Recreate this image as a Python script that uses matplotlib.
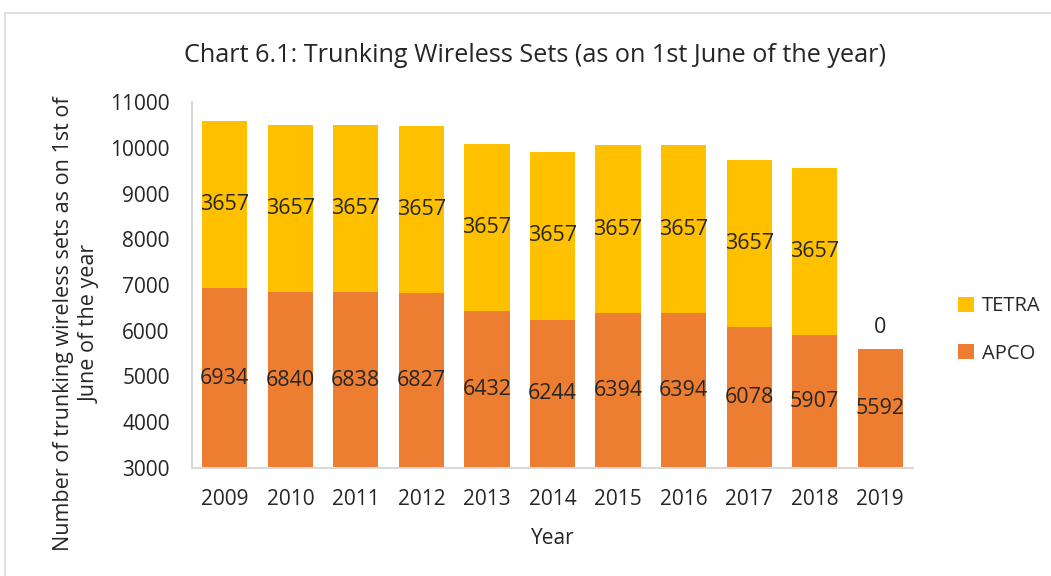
import matplotlib.pyplot as plt
from matplotlib.patches import Rectangle

years = ['2009', '2010', '2011', '2012', '2013', '2014', '2015', '2016', '2017', '2018', '2019']
apco = [6934, 6840, 6838, 6827, 6432, 6244, 6394, 6394, 6078, 5907, 5592]
tetra = [3657, 3657, 3657, 3657, 3657, 3657, 3657, 3657, 3657, 3657, 0]

plt.rcParams['font.family'] = ['Open Sans', 'DejaVu Sans']
txt = '#262626'

fig = plt.figure(figsize=(10.51, 5.76), dpi=100)
ax = fig.add_axes([192 / 1051, 1 - 468 / 576, 721 / 1051, 366 / 576])

# chart frame
fig.patches.append(Rectangle((5 / 1051, -0.05), 1.1, 1 - 13 / 576 + 0.05,
                             transform=fig.transFigure, fill=False,
                             edgecolor='#d9d9d9', linewidth=1.2))

x = list(range(len(years)))
b1 = ax.bar(x, apco, width=0.69, color='#ED7D31', label='APCO')
b2 = ax.bar(x, tetra, width=0.69, bottom=apco, color='#FFC000', label='TETRA')

ymin, ymax = 3000, 11000
ax.set_ylim(ymin, ymax)
ax.set_xlim(-0.5, len(years) - 0.5)

for i in x:
    ax.text(i, (ymin + apco[i]) / 2, str(apco[i]), ha='center', va='center',
            fontsize=15.5, color=txt)
    if tetra[i] > 0:
        ax.text(i, apco[i] + tetra[i] / 2, str(tetra[i]), ha='center', va='center',
                fontsize=15.5, color=txt)
    else:
        ax.annotate(str(tetra[i]), (i, apco[i]), xytext=(0, 16), textcoords='offset points',
                    ha='center', va='center', fontsize=15.5, color=txt)

ax.set_xticks(x)
ax.set_xticklabels(years)
ax.set_yticks(range(3000, 11001, 1000))
ax.tick_params(axis='both', length=0, labelsize=15, colors=txt)
ax.tick_params(axis='y', pad=16)
ax.tick_params(axis='x', pad=15)
for s in ['top', 'right']:
    ax.spines[s].set_visible(False)
for s in ['left', 'bottom']:
    ax.spines[s].set_color('#d9d9d9')
    ax.spines[s].set_linewidth(1.5)

ax.set_xlabel('Year', fontsize=15, color=txt, labelpad=13)
fig.text(77 / 1051, 1 - 324 / 576,
         'Number of trunking wireless sets as on 1st of\nJune of the year',
         rotation=90, ha='center', va='center', multialignment='center',
         fontsize=15.5, color=txt, linespacing=1.4)

fig.text(535 / 1051, 1 - 55 / 576, 'Chart 6.1: Trunking Wireless Sets (as on 1st June of the year)',
         ha='center', va='center', fontsize=18.2, color=txt)

ax.legend(handles=[b2, b1], loc='center left', bbox_to_anchor=(940 / 1051, 1 - 330 / 576),
          bbox_transform=fig.transFigure, frameon=False, fontsize=14.5,
          handlelength=0.8, handleheight=0.8, handletextpad=0.4, labelspacing=1.35,
          labelcolor=txt)

fig.savefig('out.png', dpi=100)
